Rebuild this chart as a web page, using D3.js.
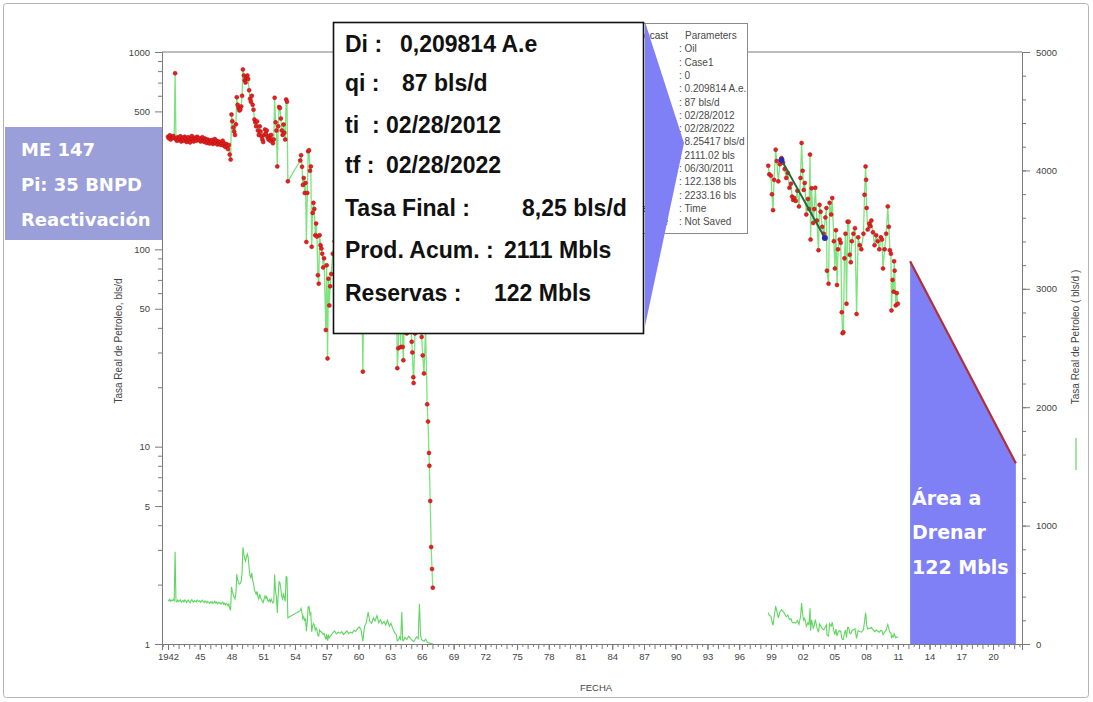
<!DOCTYPE html>
<html>
<head>
<meta charset="utf-8">
<script src="https://cdn.jsdelivr.net/npm/d3@7/dist/d3.min.js"></script>
<style>
  html, body { margin: 0; padding: 0; background: #fff; }
  svg { display: block; }
  text { white-space: pre; }
</style>
</head>
<body>
<svg id="chart" width="1093" height="702"></svg>
<script>
// Historia de producción de petróleo, pozo ME 147 (tasa mensual, bls/d)
const historia1942 = [
  [1942.00,372],[1942.08,365],[1942.17,378],[1942.25,360],[1942.33,370],[1942.42,368],[1942.50,375],[1942.58,366],[1942.67,780],[1942.75,362],[1942.83,355],[1942.92,370],
  [1943.00,358],[1943.08,366],[1943.17,374],[1943.25,352],[1943.33,360],[1943.42,368],[1943.50,355],[1943.58,372],[1943.67,364],[1943.75,350],[1943.83,362],[1943.92,370],
  [1944.00,356],[1944.08,348],[1944.17,366],[1944.25,375],[1944.33,360],[1944.42,352],[1944.50,368],[1944.58,362],[1944.67,355],[1944.75,372],[1944.83,364],[1944.92,358],
  [1945.00,366],[1945.08,352],[1945.17,362],[1945.25,370],[1945.33,356],[1945.42,350],[1945.50,364],[1945.58,358],[1945.67,346],[1945.75,360],[1945.83,352],[1945.92,344],
  [1946.00,356],[1946.08,348],[1946.17,358],[1946.25,342],[1946.33,350],[1946.42,362],[1946.50,346],[1946.58,355],[1946.67,340],[1946.75,352],[1946.83,344],[1946.92,350],
  [1947.00,338],[1947.08,346],[1947.17,355],[1947.25,336],[1947.33,344],[1947.42,330],[1947.50,342],[1947.58,334],[1947.67,322],[1947.75,338],[1947.83,302],[1947.92,285],
  [1948.00,482],[1948.08,446],[1948.17,414],[1948.25,395],[1948.33,380],[1948.42,430],[1948.50,590],[1948.58,540],[1948.67,520],[1948.75,505],[1948.83,511],[1948.92,530],
  [1949.00,600],[1949.08,816],[1949.17,760],[1949.25,720],[1949.33,700],[1949.42,740],[1949.50,760],[1949.58,730],[1949.67,640],[1949.75,580],[1949.83,560],[1949.92,600],
  [1950.00,540],[1950.08,510],[1950.17,455],[1950.25,440],[1950.33,420],[1950.42,445],[1950.50,400],[1950.58,380],[1950.67,420],[1950.75,395],[1950.83,374],[1950.92,360],
  [1951.00,350],[1951.08,380],[1951.17,405],[1951.25,385],[1951.33,400],[1951.42,370],[1951.50,360],[1951.58,375],[1951.67,355],[1951.75,380],[1951.83,360],[1951.92,345],
  [1952.00,360],[1952.08,586],[1952.17,440],[1952.25,400],[1952.33,263],[1952.42,420],[1952.50,526],[1952.58,520],[1952.67,460],[1952.75,400],[1952.83,380],[1952.92,429],
  [1953.00,390],[1953.08,360],[1953.17,575],[1953.25,560],[1953.33,221],
  [1954.50,282],[1954.58,300],[1954.67,262],[1954.75,212],[1954.83,230],[1954.92,193],
  [1955.00,217],[1955.08,109],[1955.17,193],[1955.25,314],[1955.33,318],[1955.42,250],[1955.50,263],[1955.58,103],[1955.67,153],[1955.75,172],[1955.83,160],[1955.92,118],
  [1956.00,135],[1956.08,116],[1956.17,74],[1956.25,67],[1956.33,118],[1956.42,105],[1956.50,101],[1956.58,95],[1956.67,81],[1956.75,90],[1956.92,39],
  [1957.00,83],[1957.08,28],[1957.17,71],[1957.25,52],[1957.33,65],[1957.42,75],[1957.58,95],[1957.75,110],[1957.92,85],
  [1958.08,100],[1958.25,90],[1958.42,105],[1958.58,80],[1958.75,95],[1958.92,110],
  [1959.08,88],[1959.25,100],[1959.42,92],[1959.58,115],[1959.75,105],[1959.92,130],
  [1960.08,145],[1960.25,120],[1960.42,24],[1960.58,150],[1960.75,180],[1960.92,270],
  [1961.08,190],[1961.25,175],[1961.42,220],[1961.58,195],[1961.75,240],[1961.92,180],
  [1962.08,205],[1962.25,170],[1962.42,190],[1962.58,160],[1962.75,200],[1962.92,150],
  [1963.08,175],[1963.25,130],[1963.42,95],[1963.58,80],[1963.68,25],[1963.77,31.5],[1963.90,60],
  [1964.00,32],[1964.10,270],[1964.19,32],[1964.25,27.4],[1964.40,55],[1964.57,37.5],[1964.75,65],[1964.90,50],
  [1965.04,34],[1965.10,30],[1965.19,22.5],[1965.22,21],[1965.35,37.5],[1965.50,60],[1965.65,45],[1965.77,340],[1965.88,70],[1965.98,36],
  [1966.08,29],[1966.20,23.5],[1966.35,40],[1966.50,16.4],[1966.58,13.4],[1966.67,9.3],[1966.71,8.0],[1966.79,5.3],[1966.88,3.1],[1966.96,2.4],[1967.03,1.93]
];

// Reactivación 1998 - 2011
const historia1998 = [
  [1998.75,265],[1998.85,240],[1999.00,236],[1999.10,190],[1999.20,158],[1999.30,225],[1999.45,320],[1999.55,280],[1999.70,221],[1999.85,270],
  [2000.00,290],[2000.15,275],[2000.30,255],[2000.45,230],[2000.60,244],[2000.75,205],[2000.90,215],
  [2001.00,185],[2001.10,178],[2001.20,182],[2001.35,176],[2001.50,198],[2001.65,165],[2001.80,230],[2001.90,346],
  [2002.00,250],[2002.10,200],[2002.20,217],[2002.35,150],[2002.50,180],[2002.60,160],[2002.70,302],[2002.75,112],[2002.85,204],
  [2003.00,136],[2003.10,160],[2003.20,205],[2003.35,140],[2003.50,99],[2003.60,168],[2003.70,155],[2003.85,130],
  [2004.00,120],[2004.15,145],[2004.25,162],[2004.30,78],[2004.45,67],[2004.55,172],[2004.70,150],[2004.80,182],[2004.95,110],
  [2005.05,80],[2005.15,125],[2005.25,66],[2005.35,100],[2005.50,112],[2005.60,108],[2005.70,48],[2005.78,37.6],[2005.85,38],[2005.95,90],
  [2006.05,120],[2006.15,53],[2006.25,138],[2006.35,138],[2006.45,94],[2006.55,86],[2006.65,110],[2006.80,120],[2006.95,128],
  [2007.10,47],[2007.25,115],[2007.40,105],[2007.55,100],[2007.75,120],[2007.85,189],[2007.95,263],
  [2008.00,225],[2008.05,162],[2008.15,126],[2008.30,135],[2008.40,131],[2008.50,140],[2008.65,122],[2008.80,105],[2008.95,118],
  [2009.10,110],[2009.25,100],[2009.40,115],[2009.50,112],[2009.60,80],[2009.75,100],[2009.90,120],
  [2010.05,165],[2010.15,130],[2010.25,99],[2010.35,95],[2010.40,49],[2010.50,70],[2010.60,61],[2010.65,87],[2010.70,78],[2010.80,52],[2010.90,60],[2011.00,53]
];

// Tramo de ajuste de la declinación (inicio y fin)
const ajuste = [[2000.0, 284], [2004.1, 114]];

// Pronóstico exponencial: ti 02/28/2012, qi 87 bls/d -> tf 02/28/2022, 8,25 bls/d
const pronostico = [[2012.16, 87], [2022.16, 8.25]];

// Ejes
const ticksIzq = [1, 5, 10, 50, 100, 500, 1000];
const ticksIzqMenores = [2,3,4,6,7,8,9,20,30,40,60,70,80,90,200,300,400,600,700,800,900];
const ticksDer = [0, 1000, 2000, 3000, 4000, 5000];
const aniosEtiqueta = d3.range(1942, 2021, 3);

// Textos
const resumenEtiquetas = ["Di :", "qi :", "ti", "tf :", "Tasa Final :", "Prod. Acum. :", "Reservas :"];
const resumenValores = ["0,209814 A.e", "87 bls/d", ": 02/28/2012", "02/28/2022", "8,25 bls/d", "2111 Mbls", "122 Mbls"];
const parametrosValores = ["Parameters", ": Oil", ": Case1", ": 0", ": 0.209814 A.e.", ": 87 bls/d", ": 02/28/2012", ": 02/28/2022",
  ": 8.25417 bls/d", ": 2111.02 bls", ": 06/30/2011", ": 122.138 bls", ": 2233.16 bls", ": Time", ": Not Saved"];
const parametrosEtiquetas = [[0, "Forecast"], [13, "Ended By"], [14, "Date"]];
const pozo = ["ME 147", "Pi: 35 BNPD", "Reactivación"];
const areaTexto = ["Área a", "Drenar", "122 Mbls"];

const svg = d3.select("#chart");
const L = 162, R = 1022, T = 52, B = 644;

const x = d3.scaleLinear().domain([1941.43, 2022.74]).range([L, R]);
const yL = d3.scaleLog().domain([1, 1000]).range([B, T]);
const yR = d3.scaleLinear().domain([0, 5000]).range([B, T]);

const axisFont = "'Liberation Sans Narrow', 'Liberation Sans', Arial, sans-serif";
const boldWide = "'DejaVu Sans', Verdana, sans-serif";
const grey = "#7a7a7a";

// marco exterior
svg.append("rect").attr("x", 3.5).attr("y", 3.5).attr("width", 1085).attr("height", 694)
  .attr("rx", 3).attr("fill", "none").attr("stroke", "#b4b4b4");

// marco del gráfico
svg.append("line").attr("x1", L).attr("x2", R).attr("y1", T).attr("y2", T).attr("stroke", grey);

// área a drenar (pronóstico)
const area = d3.area().x(d => x(d[0])).y0(yL(1)).y1(d => yL(d[1]));
svg.append("path").datum(pronostico).attr("d", area).attr("fill", "#7f80f5");
svg.append("path").datum(pronostico)
  .attr("d", d3.line().x(d => x(d[0])).y(d => yL(d[1])))
  .attr("stroke", "#b0303a").attr("stroke-width", 2.2).attr("fill", "none");

// tasa en eje lineal (derecho)
const lineR = d3.line().x(d => x(d[0])).y(d => yR(d[1]));
[historia1942, historia1998].forEach(s => {
  svg.append("path").datum(s).attr("d", lineR)
    .attr("fill", "none").attr("stroke", "#5fd65f").attr("stroke-width", 1.1);
});

// tasa en eje logarítmico (izquierdo)
const lineL = d3.line().x(d => x(d[0])).y(d => yL(d[1]));
[historia1942, historia1998].forEach(s => {
  svg.append("path").datum(s).attr("d", lineL)
    .attr("fill", "none").attr("stroke", "#7ee37e").attr("stroke-width", 1.3);
});
[historia1942, historia1998].forEach(s => {
  svg.append("g").selectAll("circle").data(s).join("circle")
    .attr("cx", d => x(d[0])).attr("cy", d => yL(d[1])).attr("r", 2)
    .attr("fill", "#ee1c1c").attr("stroke", "#a01414").attr("stroke-width", 0.5);
});

// recta de ajuste
svg.append("path").datum(ajuste).attr("d", lineL)
  .attr("stroke", "#22683a").attr("stroke-width", 2).attr("fill", "none");
svg.append("g").selectAll("circle").data(ajuste).join("circle")
  .attr("cx", d => x(d[0])).attr("cy", d => yL(d[1])).attr("r", 3)
  .attr("fill", "#2a2ab0");

// eje izquierdo
svg.append("g").attr("transform", `translate(${L},0)`)
  .call(d3.axisLeft(yL).tickValues(ticksIzq).tickFormat(d3.format("d")).tickSize(7).tickPadding(5));
svg.append("g").attr("transform", `translate(${L},0)`)
  .call(d3.axisLeft(yL).tickValues(ticksIzqMenores).tickFormat("").tickSize(4))
  .select(".domain").remove();

// eje derecho
svg.append("g").attr("transform", `translate(${R},0)`)
  .call(d3.axisRight(yR).tickValues(ticksDer).tickFormat(d3.format("d")).tickSize(8).tickPadding(6));
svg.append("g").attr("transform", `translate(${R},0)`)
  .call(d3.axisRight(yR).tickValues(d3.range(0, 5001, 200)).tickFormat("").tickSize(4))
  .select(".domain").remove();

// eje inferior
svg.append("g").attr("transform", `translate(0,${B})`)
  .call(d3.axisBottom(x).tickValues(aniosEtiqueta)
    .tickFormat(d => d === 1942 ? "1942" : d3.format("02d")(d % 100)).tickSize(6).tickPadding(3));
svg.append("g").attr("transform", `translate(0,${B})`)
  .call(d3.axisBottom(x).tickValues(d3.range(1942, 2023, 1)).tickFormat("").tickSize(5))
  .select(".domain").remove();
svg.append("g").attr("transform", `translate(0,${B})`)
  .call(d3.axisBottom(x).tickValues(d3.range(1941.5, 2022.6, 1)).tickFormat("").tickSize(3))
  .select(".domain").remove();

svg.selectAll(".domain").attr("stroke", grey);
svg.selectAll(".tick line").attr("stroke", grey);
svg.selectAll(".tick text").attr("font-family", axisFont).attr("font-size", 9.5).attr("fill", "#444");

// títulos de ejes
svg.append("text").attr("transform", "translate(122,341) rotate(-90)").attr("text-anchor", "middle")
  .attr("font-family", axisFont).attr("font-size", 10).attr("fill", "#444")
  .text("Tasa Real de Petroleo, bls/d");
svg.append("text").attr("transform", "translate(1079,337) rotate(-90)").attr("text-anchor", "middle")
  .attr("font-family", axisFont).attr("font-size", 10).attr("fill", "#444")
  .text("Tasa Real de Petroleo ( bls/d )");
svg.append("line").attr("x1", 1076).attr("x2", 1076).attr("y1", 438).attr("y2", 470)
  .attr("stroke", "#7ee37e").attr("stroke-width", 1.5);
svg.append("text").attr("x", 596).attr("y", 691).attr("text-anchor", "middle")
  .attr("font-family", axisFont).attr("font-size", 9.5).attr("fill", "#444").text("FECHA");

// cuadro de parámetros del pronóstico (asoma a la derecha del resumen)
svg.append("clipPath").attr("id", "clipParam")
  .append("rect").attr("x", 643).attr("y", 20).attr("width", 110).attr("height", 220);
const pb = svg.append("g").attr("clip-path", "url(#clipParam)");
pb.append("rect").attr("x", 560.5).attr("y", 23.5).attr("width", 187).attr("height", 210)
  .attr("fill", "#fff").attr("stroke", "#8a8a8a");
pb.selectAll("text.v").data(parametrosValores).join("text").attr("class", "v")
  .attr("x", (d, i) => i === 0 ? 685 : 679).attr("y", (d, i) => 39 + i * 13.3)
  .attr("font-family", axisFont).attr("font-size", 10).attr("fill", "#4a4a4a").text(d => d);

// cuña que une el cuadro de resumen
svg.append("path").attr("d", "M645,22 L684,143 L645,326 Z").attr("fill", "#7f80f5");

pb.selectAll("text.e").data(parametrosEtiquetas).join("text").attr("class", "e")
  .attr("x", 668).attr("y", d => 39 + d[0] * 13.3).attr("text-anchor", "end")
  .attr("font-family", axisFont).attr("font-size", 10).attr("fill", "#3a3a3a").text(d => d[1]);

// cuadro resumen
const rb = svg.append("g");
rb.append("rect").attr("x", 333.5).attr("y", 22.5).attr("width", 310).attr("height", 311)
  .attr("fill", "#fff").attr("stroke", "#111").attr("stroke-width", 1.6);
const resumenY = [52, 91, 133, 173, 216, 258, 301];
const resumenX = [400, 402, 372, 386, 522, 504, 494];
rb.selectAll("text.l").data(resumenEtiquetas).join("text").attr("class", "l")
  .attr("x", 345).attr("y", (d, i) => resumenY[i])
  .attr("font-family", "'Liberation Sans', Arial, sans-serif").attr("font-weight", "bold")
  .attr("font-size", 23).attr("fill", "#111").text(d => d);
rb.selectAll("text.v").data(resumenValores).join("text").attr("class", "v")
  .attr("x", (d, i) => resumenX[i]).attr("y", (d, i) => resumenY[i])
  .attr("font-family", "'Liberation Sans', Arial, sans-serif").attr("font-weight", "bold")
  .attr("font-size", 23).attr("fill", "#111").text(d => d);

// rótulo del pozo
svg.append("rect").attr("x", 5).attr("y", 127).attr("width", 157).attr("height", 113).attr("fill", "#9a9ed9");
svg.selectAll("text.pozo").data(pozo).join("text").attr("class", "pozo")
  .attr("x", 21).attr("y", (d, i) => 156 + i * 35)
  .attr("font-family", boldWide).attr("font-weight", "bold")
  .attr("font-size", 18).attr("fill", "#fff").text(d => d);

// texto del área a drenar
svg.selectAll("text.area").data(areaTexto).join("text").attr("class", "area")
  .attr("x", 912).attr("y", (d, i) => [505, 539, 574][i])
  .attr("font-family", boldWide).attr("font-weight", "bold")
  .attr("font-size", 19).attr("fill", "#fff").text(d => d);
</script>
</body>
</html>
